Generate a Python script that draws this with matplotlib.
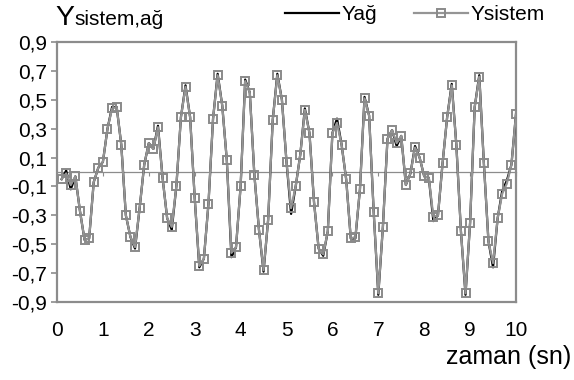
import matplotlib
matplotlib.use("Agg")
import matplotlib.pyplot as plt
import numpy as np

plt.rcParams['font.family'] = ['Liberation Sans', 'DejaVu Sans']

# time axis (s)
zaman = [round(0.1 * i, 1) for i in range(1, 101)]

y_sistem = [
    -0.05, -0.01, -0.09, -0.03, -0.27, -0.47, -0.46, -0.07, 0.03, 0.07,
    0.30, 0.44, 0.45, 0.19, -0.30, -0.45, -0.52, -0.25, 0.05, 0.20,
    0.16, 0.31, -0.04, -0.32, -0.38, -0.10, 0.38, 0.59, 0.38, -0.18,
    -0.65, -0.60, -0.22, 0.37, 0.67, 0.46, 0.08, -0.56, -0.52, -0.10,
    0.63, 0.55, -0.02, -0.40, -0.68, -0.33, 0.36, 0.67, 0.50, 0.07,
    -0.25, -0.10, 0.12, 0.43, 0.27, -0.21, -0.53, -0.57, -0.41, 0.27,
    0.34, 0.19, -0.05, -0.46, -0.45, -0.12, 0.51, 0.39, -0.28, -0.84,
    -0.38, 0.23, 0.29, 0.20, 0.25, -0.09, -0.01, 0.17, 0.10, -0.03,
    -0.04, -0.31, -0.30, 0.06, 0.38, 0.60, 0.19, -0.41, -0.84, -0.35,
    0.45, 0.66, 0.06, -0.48, -0.63, -0.32, -0.15, -0.08, 0.05, 0.40,
]

y_ag = [
    -0.05, 0.01, -0.12, -0.03, -0.27, -0.47, -0.46, -0.07, 0.03, 0.07,
    0.30, 0.45, 0.45, 0.19, -0.30, -0.45, -0.53, -0.25, 0.05, 0.20,
    0.16, 0.32, -0.04, -0.32, -0.40, -0.10, 0.38, 0.60, 0.38, -0.18,
    -0.66, -0.60, -0.22, 0.37, 0.68, 0.46, 0.08, -0.59, -0.52, -0.10,
    0.64, 0.55, -0.02, -0.40, -0.69, -0.33, 0.36, 0.68, 0.50, 0.07,
    -0.29, -0.10, 0.12, 0.44, 0.27, -0.21, -0.53, -0.58, -0.41, 0.27,
    0.37, 0.19, -0.05, -0.46, -0.46, -0.12, 0.52, 0.39, -0.28, -0.85,
    -0.38, 0.23, 0.29, 0.18, 0.25, -0.09, -0.01, 0.18, 0.10, -0.03,
    -0.04, -0.34, -0.30, 0.06, 0.38, 0.61, 0.19, -0.41, -0.85, -0.35,
    0.45, 0.67, 0.06, -0.48, -0.66, -0.32, -0.13, -0.06, 0.05, 0.40,
]

x_ticks = list(range(0, 11))
x_tick_labels = [str(v) for v in x_ticks]
y_ticks = [-0.9, -0.7, -0.5, -0.3, -0.1, 0.1, 0.3, 0.5, 0.7, 0.9]
y_tick_labels = ["-0,9", "-0,7", "-0,5", "-0,3", "-0,1", "0,1", "0,3", "0,5", "0,7", "0,9"]

W, H = 574, 380
fig = plt.figure(figsize=(W / 100, H / 100), dpi=100)
ax = fig.add_axes([57 / W, 1 - 302 / H, (516 - 57) / W, (302 - 42) / H])

frame_col = '#8c8c8c'
gray = '#959595'

ax.plot(zaman, y_ag, color='black', lw=1.6, label='Yağ', zorder=3)
ax.plot(zaman, y_sistem, color=gray, lw=1.6, marker='s', markersize=5.8,
        markerfacecolor='none', markeredgecolor='#8a8a8a', markeredgewidth=1.4,
        label='Ysistem', zorder=4)

ax.set_xlim(0, 10)
ax.set_ylim(-0.9, 0.9)
ax.set_xticks(x_ticks)
ax.set_xticklabels(x_tick_labels)
ax.set_yticks(y_ticks)
ax.set_yticklabels(y_tick_labels)

for s in ax.spines.values():
    s.set_color(frame_col)
    s.set_linewidth(1.6)

ax.tick_params(axis='x', length=0, pad=14, labelsize=15, colors='black')
ax.tick_params(axis='y', direction='out', length=4, width=1.2, color=frame_col,
               pad=3, labelsize=15, labelcolor='black')

# horizontal axis crossing at zero with small tick marks
sec = ax.secondary_xaxis(0.4999)
sec.set_xticks(x_ticks)
sec.set_xticklabels([''] * len(x_ticks))
for s in sec.spines.values():
    s.set_color('#8c8c8c')
    s.set_linewidth(0.9)
sec.tick_params(direction='out', length=3, width=0.8, color='#8c8c8c')

# axis titles
fig.text(0.996, 1 - 357 / H, 'zaman (sn)', ha='right', va='center', fontsize=18)
t1 = fig.text(55 / W, 1 - 25 / H, 'Y', ha='left', va='baseline', fontsize=20.5)
fig.canvas.draw()
bb = t1.get_window_extent(renderer=fig.canvas.get_renderer())
fig.text(bb.x1 / W, 1 - 25 / H, 'sistem,ağ', ha='left', va='baseline', fontsize=15)

fig.legend(loc='center left', bbox_to_anchor=(285 / W, 1 - 15 / H), ncol=2,
           frameon=False, fontsize=15, handlelength=2.6, handletextpad=0.12,
           columnspacing=1.75, borderpad=0, borderaxespad=0)

fig.savefig('out.png', dpi=100)
